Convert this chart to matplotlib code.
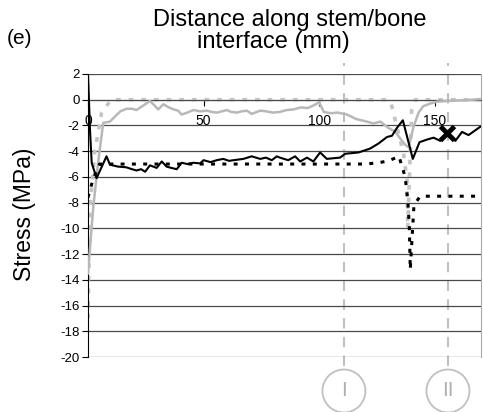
import numpy as np
import matplotlib
matplotlib.use("Agg")
import matplotlib.pyplot as plt
from matplotlib.patches import Circle

plt.rcParams['font.family'] = ['Liberation Sans', 'DejaVu Sans']
plt.rcParams['axes.unicode_minus'] = False

# black solid curve
blk_x = [0, 0.9, 1.6, 3.7, 8.0, 9.5, 13, 16.5, 19, 21, 23, 24.7, 26.8, 29.7, 31.9, 34, 36,
         38.4, 40.5, 43, 45.6, 48.5, 50, 53, 55.7, 58.5, 61, 63, 67.2, 70.8, 74.5, 77, 79.5,
         81.7, 83, 86.6, 89.6, 91.8, 94.7, 97.5, 100.4, 103.3, 106, 109, 111.3, 117, 122,
         125.7, 129.3, 131.5, 133.6, 136.2, 140.5, 143.4, 146.6, 149.5, 152.4, 155.3, 158.9,
         161.8, 164.6, 169.7]
blk_y = [2.0, -2.5, -4.9, -6.1, -4.4, -5.05, -5.2, -5.25, -5.4, -5.5, -5.4, -5.6, -5.1, -5.3,
         -4.8, -5.2, -5.3, -5.4, -4.9, -5.0, -4.9, -4.95, -4.7, -4.85, -4.7, -4.6, -4.75, -4.7,
         -4.6, -4.4, -4.6, -4.5, -4.7, -4.4, -4.5, -4.7, -4.4, -4.8, -4.5, -4.8, -4.1, -4.6,
         -4.55, -4.5, -4.2, -4.1, -3.8, -3.4, -2.9, -2.8, -2.2, -1.6, -4.6, -3.3, -3.1, -2.95,
         -3.2, -2.5, -3.2, -2.5, -2.75, -2.1]

# black dotted curve
bdot_x = [0, 2.3, 5, 8.7, 120, 125.7, 130, 132, 134.5, 137.2, 138.4, 139, 139.4, 141, 143.7, 170]
bdot_y = [-7.6, -6.1, -5.0, -5.0, -5.0, -4.9, -4.75, -4.6, -4.4, -6.0, -8.0, -9.9, -13.2, -8.2,
          -7.5, -7.5]

# grey solid curve
gry_x = [0, 2.3, 4.5, 6.6, 9.5, 11.7, 14, 16.7, 19, 21, 23.5, 26.8, 28.5, 30.4, 32.6, 35, 37,
         39, 40.5, 43, 45.6, 48.5, 51.4, 53.5, 55.7, 58, 60, 62, 64.4, 66.5, 68.7, 70.8, 74.5,
         77, 80, 83, 86, 89, 92, 95, 97.5, 100, 102, 105, 108, 112, 116, 120.6, 123.5, 126.4,
         130, 133, 135, 137.2, 138.7, 140.8, 143, 145, 148, 151, 156, 161, 166, 170]
gry_y = [-13.5, -8.3, -4.7, -1.8, -1.7, -1.3, -0.9, -0.7, -0.7, -0.8, -0.5, -0.1, -0.4, -0.75,
         -0.35, -0.6, -0.75, -0.85, -1.15, -1.0, -0.8, -0.9, -0.85, -0.95, -1.0, -0.9, -0.8,
         -0.95, -1.0, -0.9, -0.85, -1.1, -0.85, -0.9, -1.0, -0.95, -0.8, -0.75, -0.6, -0.65,
         -0.45, -0.2, -0.95, -1.05, -1.0, -1.15, -1.5, -1.7, -1.85, -1.7, -2.2, -2.5, -3.0,
         -3.5, -3.7, -2.1, -1.0, -0.5, -0.3, -0.15, -0.1, -0.05, 0.0, 0.05]

# grey dotted curve
gdot_x = [0, 0.9, 3, 5.9, 10, 130, 131.4, 136.4, 138, 138.3, 140, 141.5, 170]
gdot_y = [-17.0, -8.2, -4.0, -1.0, 0.0, 0.0, -0.5, -4.1, -6.2, -10.0, -0.8, 0.0, 0.0]

marker_x, marker_y = 155.3, -2.6
section_x = [110.7, 155.7]
section_lbl = ['I', 'II']

xticks = [0, 50, 100, 150]
yticks = list(range(-20, 3, 2))

fig = plt.figure(figsize=(4.83, 4.12), dpi=100)
ax = fig.add_axes([88 / 483, 1 - 357 / 412, 393 / 483, 283 / 412])

for y in yticks:
    ax.axhline(y, color='#4a4a4a', lw=0.9, zorder=1)

ax.plot(gdot_x, gdot_y, color='#c4c4c4', lw=2.6, ls=(0, (1.3, 2.2)), zorder=2)
ax.plot(gry_x, gry_y, color='#b8b8b8', lw=1.8, zorder=3)
ax.plot(bdot_x, bdot_y, color='black', lw=2.2, ls=(0, (1.3, 2.4)), zorder=4)
ax.plot(blk_x, blk_y, color='black', lw=1.5, zorder=5)
ax.plot(marker_x, marker_y, marker='x', color='black', ms=10, mew=3.5, zorder=6)

ax.set_xlim(0, 170)
ax.set_ylim(-20, 2)
ax.set_xticks(xticks)
ax.set_yticks(yticks)
ax.spines['bottom'].set_position(('data', 0))
ax.spines['bottom'].set_color('#4a4a4a')
ax.spines['top'].set_visible(False)
ax.spines['right'].set_color('#aaaaaa')
ax.spines['left'].set_color('black')
ax.tick_params(axis='x', direction='out', length=4, pad=6, labelsize=10)
ax.tick_params(axis='y', direction='out', length=4, pad=2, labelsize=9.5)

# section markers below the plot
for sx, lbl in zip(section_x, section_lbl):
    ax.axvline(sx, ymin=-0.032, ymax=1.039, color='#c0c0c0', lw=1.5,
               ls=(0, (5, 4)), clip_on=False, zorder=0)
    px = ax.transData.transform((sx, 0))[0]
    fig.patches.append(Circle((px, 412 - 391), 21.5, transform=None, fill=False,
                              edgecolor='#c0c0c0', lw=1.3))
    fig.text(px / 483, 1 - 391 / 412, lbl, ha='center', va='center',
             fontsize=15, color='#b0b0b0')

fig.text(290 / 483, 1 - 20 / 412, 'Distance along stem/bone', ha='center', va='center',
         fontsize=17)
fig.text(273 / 483, 1 - 42 / 412, 'interface (mm)', ha='center', va='center', fontsize=17)
fig.text(20 / 483, 1 - 39 / 412, '(e)', ha='center', va='center', fontsize=15)
fig.text(25 / 483, 1 - 214 / 412, 'Stress (MPa)', ha='center', va='center', rotation=90,
         fontsize=16.5)

fig.savefig('out.png', dpi=100)
